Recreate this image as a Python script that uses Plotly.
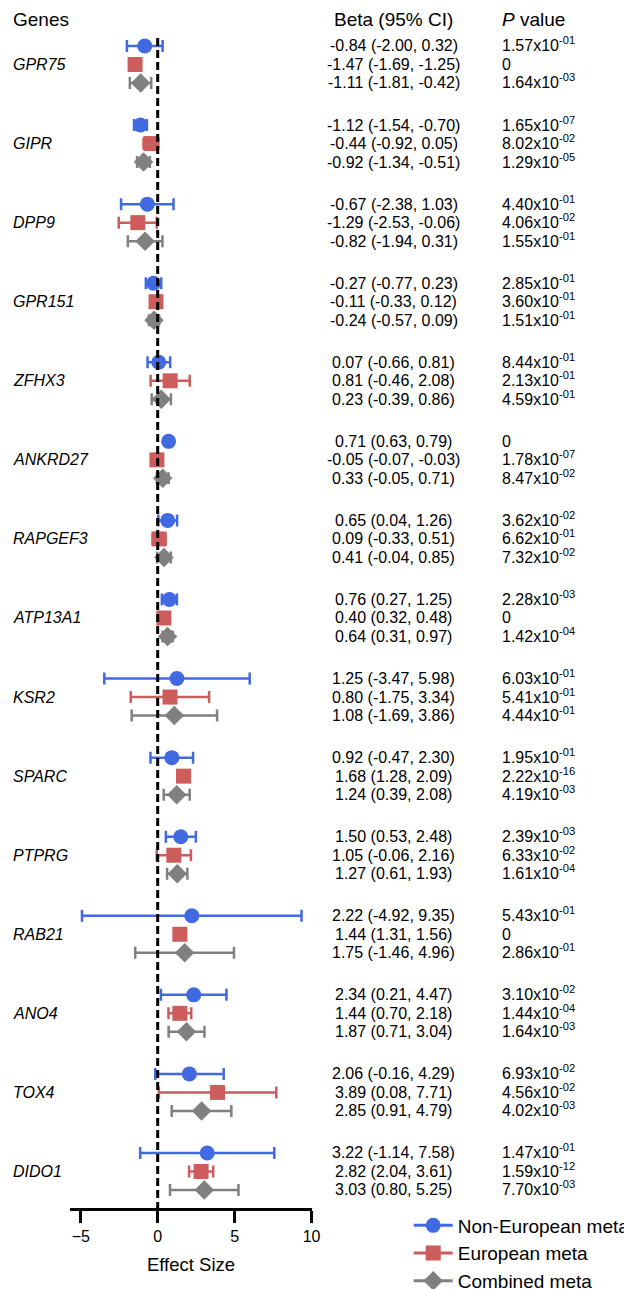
import plotly.graph_objects as go

genes = ["GPR75", "GIPR", "DPP9", "GPR151", "ZFHX3", "ANKRD27", "RAPGEF3", "ATP13A1",
         "KSR2", "SPARC", "PTPRG", "RAB21", "ANO4", "TOX4", "DIDO1"]

series_names = ["Non-European meta", "European meta", "Combined meta"]

noneur_beta = [-0.84, -1.12, -0.67, -0.27, 0.07, 0.71, 0.65, 0.76, 1.25, 0.92, 1.50, 2.22, 2.34, 2.06, 3.22]
noneur_lo = [-2.00, -1.54, -2.38, -0.77, -0.66, 0.63, 0.04, 0.27, -3.47, -0.47, 0.53, -4.92, 0.21, -0.16, -1.14]
noneur_hi = [0.32, -0.70, 1.03, 0.23, 0.81, 0.79, 1.26, 1.25, 5.98, 2.30, 2.48, 9.35, 4.47, 4.29, 7.58]
noneur_p = ["1.57e-01", "1.65e-07", "4.40e-01", "2.85e-01", "8.44e-01", "0", "3.62e-02", "2.28e-03",
            "6.03e-01", "1.95e-01", "2.39e-03", "5.43e-01", "3.10e-02", "6.93e-02", "1.47e-01"]

eur_beta = [-1.47, -0.44, -1.29, -0.11, 0.81, -0.05, 0.09, 0.40, 0.80, 1.68, 1.05, 1.44, 1.44, 3.89, 2.82]
eur_lo = [-1.69, -0.92, -2.53, -0.33, -0.46, -0.07, -0.33, 0.32, -1.75, 1.28, -0.06, 1.31, 0.70, 0.08, 2.04]
eur_hi = [-1.25, 0.05, -0.06, 0.12, 2.08, -0.03, 0.51, 0.48, 3.34, 2.09, 2.16, 1.56, 2.18, 7.71, 3.61]
eur_p = ["0", "8.02e-02", "4.06e-02", "3.60e-01", "2.13e-01", "1.78e-07", "6.62e-01", "0",
         "5.41e-01", "2.22e-16", "6.33e-02", "0", "1.44e-04", "4.56e-02", "1.59e-12"]

comb_beta = [-1.11, -0.92, -0.82, -0.24, 0.23, 0.33, 0.41, 0.64, 1.08, 1.24, 1.27, 1.75, 1.87, 2.85, 3.03]
comb_lo = [-1.81, -1.34, -1.94, -0.57, -0.39, -0.05, -0.04, 0.31, -1.69, 0.39, 0.61, -1.46, 0.71, 0.91, 0.80]
comb_hi = [-0.42, -0.51, 0.31, 0.09, 0.86, 0.71, 0.85, 0.97, 3.86, 2.08, 1.93, 4.96, 3.04, 4.79, 5.25]
comb_p = ["1.64e-03", "1.29e-05", "1.55e-01", "1.51e-01", "4.59e-01", "8.47e-02", "7.32e-02", "1.42e-04",
          "4.44e-01", "4.19e-03", "1.61e-04", "2.86e-01", "1.64e-03", "4.02e-03", "7.70e-03"]

x_ticks = [-5, 0, 5, 10]

colors = ["#4169E1", "#CD5C5C", "#808080"]
symbols = ["circle", "square", "diamond"]
sizes = [15, 15, 15]

FONT = "Arial, Liberation Sans, sans-serif"
GROUP_PITCH = 4.274
Y_TOP, Y_BOTTOM = -2.486, 62.81
X_RANGE = [-5.7, 10.03]


def fmt_p(s):
    if s == "0":
        return "0"
    m, e = s.split("e")
    return f"{m}x10<sup>{e}</sup>"


def fmt_beta(b, lo, hi):
    return f"{b:.2f} ({lo:.2f}, {hi:.2f})"


series = [
    (noneur_beta, noneur_lo, noneur_hi, noneur_p),
    (eur_beta, eur_lo, eur_hi, eur_p),
    (comb_beta, comb_lo, comb_hi, comb_p),
]

fig = go.Figure()
annotations = []

for r, (beta, lo, hi, pv) in enumerate(series):
    ys = [g * GROUP_PITCH + r for g in range(len(genes))]
    fig.add_trace(go.Scatter(
        x=beta, y=ys, mode="markers", showlegend=False, name=series_names[r],
        marker=dict(symbol=symbols[r], size=sizes[r], color=colors[r], line=dict(width=0)),
        error_x=dict(type="data", symmetric=False,
                     array=[h - b for h, b in zip(hi, beta)],
                     arrayminus=[b - l for b, l in zip(beta, lo)],
                     color=colors[r], thickness=2.5, width=6),
        cliponaxis=False,
    ))
    for g in range(len(genes)):
        annotations.append(dict(x=0.6314, xref="paper", y=ys[g], yref="y",
                                text=fmt_beta(beta[g], lo[g], hi[g]), showarrow=False,
                                xanchor="center", yanchor="middle",
                                font=dict(size=16, color="black", family=FONT)))
        ptxt = fmt_p(pv[g])
        annotations.append(dict(x=0.802, xref="paper", y=ys[g], yref="y",
                                text=ptxt, showarrow=False,
                                xanchor="left", yanchor="middle",
                                yshift=1.5 if "<sup>" in ptxt else 0,
                                font=dict(size=16, color="black", family=FONT)))

for g, name in enumerate(genes):
    annotations.append(dict(x=0.018, xref="paper", y=g * GROUP_PITCH + 1, yref="y",
                            text=f"<i>{name}</i>", showarrow=False,
                            xanchor="left", yanchor="middle",
                            font=dict(size=16, color="black", family=FONT)))

header_y = -1.42
annotations.append(dict(x=0.018, xref="paper", y=header_y, yref="y", text="Genes",
                        showarrow=False, xanchor="left", yanchor="middle",
                        font=dict(size=19, color="black", family=FONT)))
annotations.append(dict(x=0.6314, xref="paper", y=header_y, yref="y", text="Beta (95% CI)",
                        showarrow=False, xanchor="center", yanchor="middle",
                        font=dict(size=19, color="black", family=FONT)))
annotations.append(dict(x=0.802, xref="paper", y=header_y, yref="y", text="<i>P</i> value",
                        showarrow=False, xanchor="left", yanchor="middle",
                        font=dict(size=19, color="black", family=FONT)))

# legend entries
for r in range(3):
    fig.add_trace(go.Scatter(
        x=[None], y=[None], mode="lines+markers", name=series_names[r],
        line=dict(color=colors[r], width=3),
        marker=dict(symbol=symbols[r], size=sizes[r], color=colors[r], line=dict(width=0)),
    ))

fig.add_shape(type="line", xref="x", yref="y", x0=0, x1=0, y0=-0.43, y1=Y_BOTTOM,
              line=dict(color="black", width=3, dash="8px,4px"), layer="above")

fig.update_layout(
    width=624, height=1289, autosize=False,
    margin=dict(l=0, r=0, t=0, b=0, autoexpand=False),
    paper_bgcolor="white", plot_bgcolor="white",
    font=dict(family=FONT, color="black"),
    annotations=annotations,
    xaxis=dict(domain=[70 / 624, 312 / 624], range=X_RANGE, tickvals=x_ticks,
               showline=True, linewidth=3, linecolor="black", ticks="outside",
               ticklen=12, tickwidth=3, tickcolor="black", showgrid=False, zeroline=False,
               tickfont=dict(size=16, family=FONT, color="black"),
               title=dict(text="Effect Size", font=dict(size=18.5, family=FONT, color="black"), standoff=14)),
    yaxis=dict(domain=[(1289 - 1208) / 1289, 1.0], range=[Y_BOTTOM, Y_TOP], visible=False,
               showgrid=False, zeroline=False),
    showlegend=True,
    legend=dict(x=0.655, xanchor="left", y=0.064, yanchor="top", font=dict(size=19, family=FONT, color="black"),
                bgcolor="rgba(0,0,0,0)", itemwidth=39, tracegroupgap=0),
)

fig.write_html("out.html")
